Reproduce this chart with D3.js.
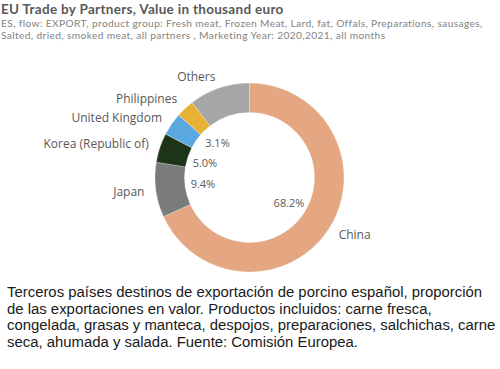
<!DOCTYPE html>
<html>
<head>
<meta charset="utf-8">
<script src="https://cdn.jsdelivr.net/npm/d3@7"></script>
<style>
  html, body { margin: 0; padding: 0; background: #fff; }
  svg { display: block; }
</style>
</head>
<body>
<svg id="chart" width="500" height="369"></svg>
<script>
const partners = ["China", "Japan", "Korea (Republic of)", "United Kingdom", "Philippines", "Others"];
const shares = [68.2, 9.4, 5.0, 3.9, 3.1, 10.4];
const pctLabels = ["68.2%", "9.4%", "5.0%", "", "3.1%", ""];
const colors = ["#e4a782", "#7b7b7b", "#1e3418", "#5ba8e0", "#e9b133", "#a6a6a6"];

const titleText = "EU Trade by Partners, Value in thousand euro";
const subtitleLines = [
  "ES, flow: EXPORT, product group: Fresh meat, Frozen Meat, Lard, fat, Offals, Preparations, sausages,",
  "Salted, dried, smoked meat, all partners , Marketing Year: 2020,2021, all months"
];
const captionLines = [
  "Terceros países destinos de exportación de porcino español, proporción",
  "de las exportaciones en valor. Productos incluidos: carne fresca,",
  "congelada, grasas y manteca, despojos, preparaciones, salchichas, carne",
  "seca, ahumada y salada. Fuente: Comisión Europea."
];

const svg = d3.select("#chart");
const qFont = "'Open Sans', 'Noto Sans', sans-serif";
const hFont = "Lato, 'Open Sans', sans-serif";

// Title & subtitle
svg.append("text").attr("x", 1).attr("y", 13.5)
  .attr("font-family", hFont).attr("font-weight", 700).attr("font-size", 13.5)
  .attr("letter-spacing", 0.3)
  .attr("fill", "#595959").text(titleText);
svg.selectAll("text.sub").data(subtitleLines).enter().append("text")
  .attr("class", "sub").attr("x", 1).attr("y", (d, i) => 26.5 + i * 12.3)
  .attr("font-family", hFont).attr("font-size", 10.2).attr("letter-spacing", 0.37)
  .attr("fill", "#828282")
  .text(d => d);

// Donut
const cx = 249.5, cy = 177.5, rOuter = 94.5, rInner = 65;
const data = partners.map((p, i) => ({ name: p, value: shares[i], pct: pctLabels[i], color: colors[i] }));
const pie = d3.pie().value(d => d.value).sort(null);
const arcs = pie(data);
const arc = d3.arc().innerRadius(rInner).outerRadius(rOuter);
const g = svg.append("g").attr("transform", `translate(${cx},${cy})`);
g.selectAll("path").data(arcs).enter().append("path")
  .attr("d", arc).attr("fill", d => d.data.color)
  .attr("stroke", "#ffffff").attr("stroke-width", 0.3);

// Percent labels inside the hole
const pctArc = d3.arc().innerRadius(47).outerRadius(47);
g.selectAll("text.pct").data(arcs.filter(d => d.data.pct)).enter().append("text")
  .attr("class", "pct")
  .attr("x", d => pctArc.centroid(d)[0])
  .attr("y", d => pctArc.centroid(d)[1])
  .attr("dy", "0.35em").attr("text-anchor", "middle")
  .attr("font-family", qFont).attr("font-size", 11).attr("fill", "#595959")
  .text(d => d.data.pct);

// Outer name labels
const nameArc = d3.arc().innerRadius(106).outerRadius(106);
const labels = arcs.map(d => {
  const [x, y] = nameArc.centroid(d);
  return { d, x, y, left: x < 0 };
});
// simple collision avoidance on the left side (push upward)
const leftL = labels.filter(l => l.left).sort((a, b) => b.y - a.y);
for (let i = 1; i < leftL.length; i++) {
  leftL[i].y = Math.min(leftL[i].y, leftL[i - 1].y - 19);
}
g.selectAll("text.name").data(labels).enter().append("text")
  .attr("class", "name")
  .attr("x", l => l.x).attr("y", l => l.y)
  .attr("dy", "0.35em")
  .attr("text-anchor", l => l.left ? "end" : "start")
  .attr("font-family", qFont).attr("font-size", 12).attr("fill", "#595959")
  .text(l => l.d.data.name);

// Caption
svg.selectAll("text.cap").data(captionLines).enter().append("text")
  .attr("class", "cap").attr("x", 7).attr("y", (d, i) => 297 + i * 16.5)
  .attr("font-family", "'Liberation Sans', Arial, sans-serif").attr("font-size", 14.9)
  .attr("fill", "#1a1a1a").text(d => d);
</script>
</body>
</html>
